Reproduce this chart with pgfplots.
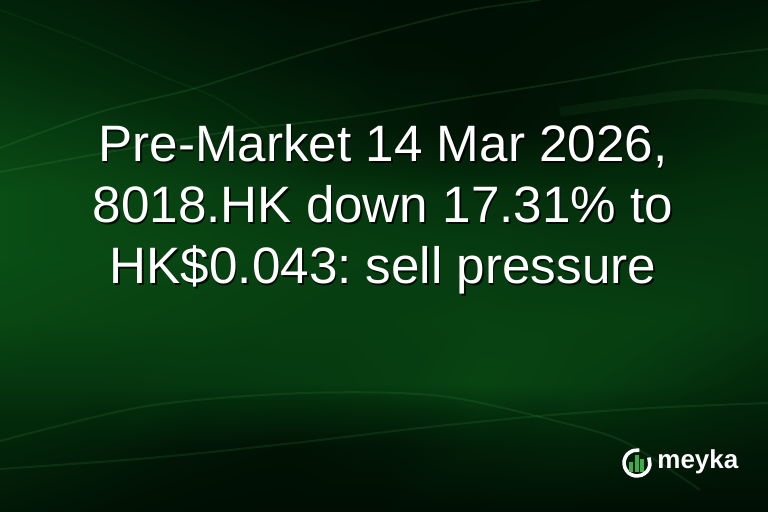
\documentclass[border=0pt]{standalone}
\usepackage{pgfplots}
\pgfplotsset{compat=1.18}
\usepackage{fontspec}
\setmainfont{Liberation Sans}
\frenchspacing
\definecolor{streak}{RGB}{70,170,80}
\definecolor{logogreen}{RGB}{62,172,72}

\begin{document}
\begin{tikzpicture}
  \begin{axis}[
    scale only axis,
    width=384pt, height=256pt,
    xmin=0, xmax=768, ymin=0, ymax=512,
    y dir=reverse,
    hide axis,
    clip=true,
    colormap={bg}{rgb255=(0,12,3) rgb255=(3,42,11) rgb255=(12,88,24)},
    point meta min=0, point meta max=1,
    ]
    % background brightness, 0 = darkest
    \addplot[surf, shader=interp, mesh/cols=9, point meta=explicit] table[meta=c] {
      x y c
      0 0 0.38
      96 0 0.28
      192 0 0.15
      288 0 0.08
      384 0 0.05
      480 0 0.05
      576 0 0.08
      672 0 0.10
      768 0 0.15
      0 64 0.55
      96 64 0.45
      192 64 0.32
      288 64 0.20
      384 64 0.10
      480 64 0.08
      576 64 0.12
      672 64 0.25
      768 64 0.35
      0 128 0.72
      96 128 0.65
      192 128 0.55
      288 128 0.42
      384 128 0.25
      480 128 0.10
      576 128 0.15
      672 128 0.30
      768 128 0.45
      0 192 0.88
      96 192 0.82
      192 192 0.75
      288 192 0.66
      384 192 0.62
      480 192 0.58
      576 192 0.55
      672 192 0.55
      768 192 0.58
      0 256 0.88
      96 256 0.84
      192 256 0.80
      288 256 0.75
      384 256 0.72
      480 256 0.70
      576 256 0.66
      672 256 0.64
      768 256 0.62
      0 320 0.82
      96 320 0.78
      192 320 0.75
      288 320 0.72
      384 320 0.72
      480 320 0.75
      576 320 0.74
      672 320 0.72
      768 320 0.62
      0 384 0.62
      96 384 0.62
      192 384 0.64
      288 384 0.66
      384 384 0.70
      480 384 0.78
      576 384 0.72
      672 384 0.60
      768 384 0.45
      0 448 0.40
      96 448 0.30
      192 448 0.15
      288 448 0.10
      384 448 0.15
      480 448 0.30
      576 448 0.35
      672 448 0.30
      768 448 0.20
      0 512 0.20
      96 512 0.10
      192 512 0.05
      288 512 0.03
      384 512 0.03
      480 512 0.05
      576 512 0.05
      672 512 0.05
      768 512 0.05
    };

    % light streaks
    \addplot[smooth, streak, opacity=0.16, line width=0.9pt] coordinates {
      (0,148) (100,112) (196,88) (300,55) (392,29) (470,10) (540,0)
    };
    \addplot[smooth, streak, opacity=0.16, line width=0.9pt] coordinates {
      (0,172) (120,150) (240,130) (343,118) (450,100) (588,78) (680,60) (768,49)
    };
    \addplot[smooth, streak, opacity=0.08, line width=5pt] coordinates {
      (560,112) (630,102) (700,94) (768,100)
    };
    \addplot[smooth, streak, opacity=0.08, line width=0.8pt] coordinates {
      (0,10) (80,40) (160,75) (220,100) (280,140)
    };
    \addplot[smooth, streak, opacity=0.14, line width=1pt] coordinates {
      (0,441) (147,406) (304,393) (441,396) (564,423) (627,443) (700,490)
    };
    \addplot[smooth, streak, opacity=0.14, line width=1pt] coordinates {
      (0,469) (150,458) (294,443) (420,428) (539,416) (650,408) (768,403)
    };

    % logo
    \addplot[smooth, white, line width=1.8pt] coordinates {
      (639.3,450.2) (632.6,450.8) (627.0,454.6) (624.2,460.7) (624.8,467.4)
      (628.6,473.0) (634.7,475.8) (641.4,475.2) (647.0,471.4) (649.8,465.3)
      (648.8,457.5)
    };
    \addplot[fill=logogreen, draw=none] coordinates {
      (629,472) (633,472) (633,462) (629,462)
    } -- cycle;
    \addplot[fill=logogreen, draw=none] coordinates {
      (634.5,472) (638.5,472) (638.5,455) (634.5,455)
    } -- cycle;
    \addplot[fill=logogreen, draw=none] coordinates {
      (640,472) (644,472) (644,459) (640,459)
    } -- cycle;

    % title with drop shadow
    \foreach \yy/\txt in {162/{Pre-Market 14 Mar 2026,},
                          223/{8018.HK down 17.31\% to},
                          284/{HK\$0.043: sell pressure}} {
      \edef\temp{\noexpand\node[anchor=base, text=black, opacity=0.75,
        font=\noexpand\fontsize{25.6}{30}\noexpand\selectfont]
        at (axis cs:384.5,\yy+1.5) {\unexpanded\expandafter{\txt}};}
      \temp
      \edef\temp{\noexpand\node[anchor=base, text=white,
        font=\noexpand\fontsize{25.6}{30}\noexpand\selectfont]
        at (axis cs:383,\yy) {\unexpanded\expandafter{\txt}};}
      \temp
    }
    \node[anchor=base west, inner sep=0pt, text=white,
      font=\bfseries\fontsize{13}{15}\selectfont]
      at (axis cs:657,469) {meyka};
  \end{axis}
\end{tikzpicture}
\end{document}
